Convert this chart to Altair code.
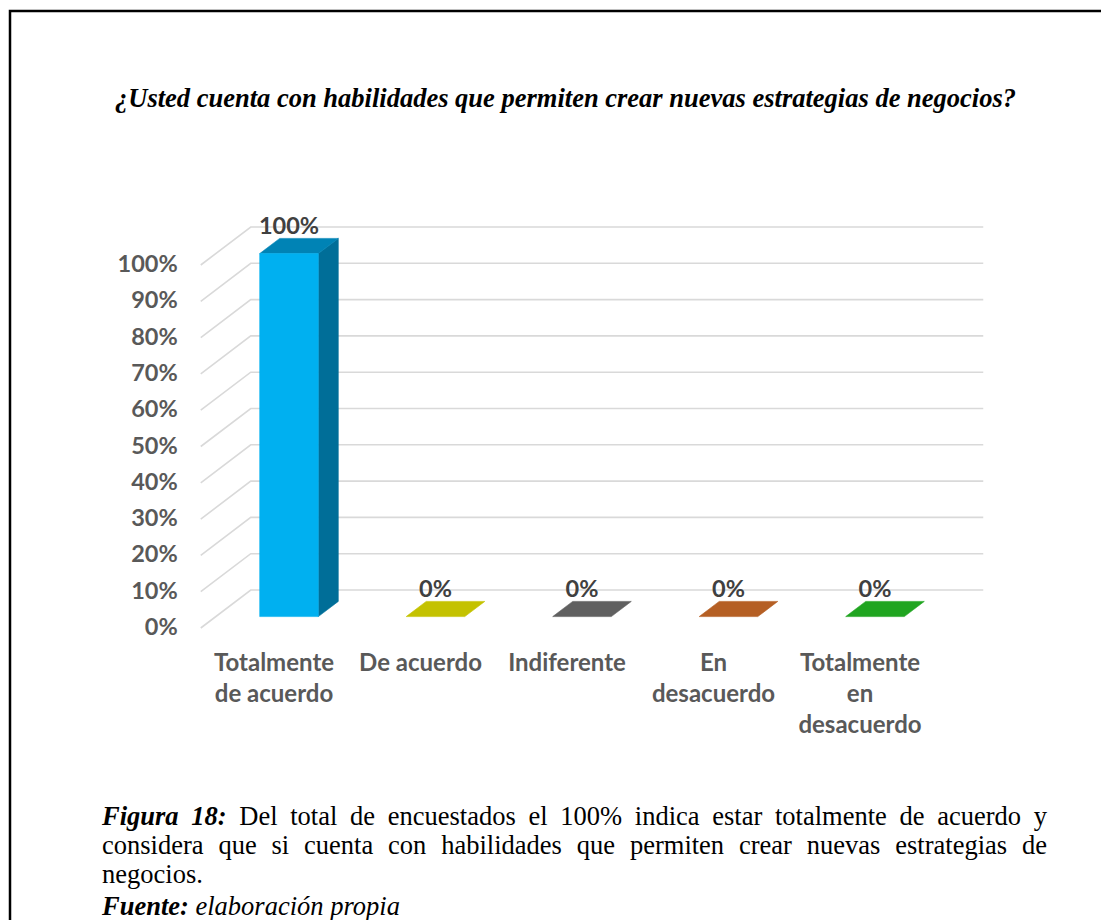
import altair as alt
import pandas as pd

# ---------------- data ----------------
categories = ["Totalmente de acuerdo", "De acuerdo", "Indiferente",
              "En desacuerdo", "Totalmente en desacuerdo"]
tick_labels = ["Totalmente\nde acuerdo", "De acuerdo", "Indiferente",
               "En\ndesacuerdo", "Totalmente\nen\ndesacuerdo"]
percentages = [100, 0, 0, 0, 0]
front_colors = ["#00B0F0", "#F2EF00", "#7F7F7F", "#D9722E", "#28C228"]
top_colors = ["#0083B5", "#C4C200", "#606060", "#B55F24", "#20A520"]
side_colors = ["#006E98", "#A3A100", "#4F4F4F", "#96501E", "#1A8A1A"]
grid_values = list(range(0, 101, 10))

title_text = ("¿Usted cuenta con habilidades que permiten crear "
              "nuevas estrategias de negocios?")
caption_lines = [
    ("justify", [("bi", "Figura 18:"),
                 ("r", "Del total de encuestados el 100% indica estar "
                       "totalmente de acuerdo y")]),
    ("justify", [("r", "considera que si cuenta con habilidades que permiten "
                       "crear nuevas estrategias de")]),
    ("left", [("r", "negocios.")]),
    ("left", [("bi", "Fuente:"), ("i", "elaboración propia")]),
]

# ---------------- layout ----------------
PAD_L, PAD_T = 10, 11          # frame origin on the page
VIEW_W, VIEW_H = 1091, 909     # frame size
CAT_PX = 146.5                 # pixels between categories
CAT0_PX = 274                  # page x of first category (front plane)
PCT_PX = 3.63                  # pixels per percentage point
ZERO_PX = 628                  # page y of 0 % on the front plane
DEPTH_DX, DEPTH_DY = 50, 38    # oblique offset of the back wall (px)

KX = DEPTH_DX / CAT_PX         # depth offset in data units
KY = DEPTH_DY / PCT_PX
HALF_W = 0.2                   # half column width (category units)
D_FRONT, D_BACK = 0.3, 0.7     # column depth inside the floor

x_lo = (PAD_L - CAT0_PX) / CAT_PX
x_hi = x_lo + VIEW_W / CAT_PX
y_hi = (ZERO_PX - PAD_T) / PCT_PX
y_lo = y_hi - VIEW_H / PCT_PX
XS = alt.Scale(domain=[x_lo, x_hi], nice=False, zero=False)
YS = alt.Scale(domain=[y_lo, y_hi], nice=False, zero=False)

LABEL_FONT = "Lato"
VALUE_SIZE = 23.5
TICK_SIZE = 24
SERIF = "Liberation Serif"
SERIF_SIZE = 26.5

# ---------------- tables ----------------
n = len(categories)
front_rows, side_rows, top_rows, value_rows, tick_rows = [], [], [], [], []
for i, (cat, v) in enumerate(zip(categories, percentages)):
    fx = i + D_FRONT * KX
    bx = i + D_BACK * KX
    fy = D_FRONT * KY
    by = D_BACK * KY
    front_rows.append({"cat": cat, "v": v, "x1": fx - HALF_W, "x2": fx + HALF_W,
                       "y1": fy, "y2": v + fy, "color": front_colors[i]})
    side_rows += [
        {"cat": cat, "v": v, "x": fx + HALF_W, "lo": fy, "hi": v + fy,
         "color": side_colors[i]},
        {"cat": cat, "v": v, "x": bx + HALF_W, "lo": by, "hi": v + by,
         "color": side_colors[i]},
    ]
    top_rows += [
        {"cat": cat, "y": v + fy, "xl": fx - HALF_W, "xr": fx + HALF_W,
         "color": top_colors[i]},
        {"cat": cat, "y": v + by, "xl": bx - HALF_W, "xr": bx + HALF_W,
         "color": top_colors[i]},
    ]
    value_rows.append({"x": fx, "y": v + by, "label": f"{v}%"})
    tick_rows.append({"x": i, "y": 0, "label": tick_labels[i]})

grid_rows = []
for g in grid_values:
    pts = [(-0.5, g), (-0.5 + KX, g + KY), (n - 0.5 + KX, g + KY)]
    for k, (gx, gy) in enumerate(pts):
        grid_rows.append({"g": g, "k": k, "x": gx, "y": gy})
ylab_rows = [{"x": -0.5, "y": g, "label": f"{g}%"} for g in grid_values]

front_df = pd.DataFrame(front_rows)
side_df = pd.DataFrame(side_rows)
top_df = pd.DataFrame(top_rows)
value_df = pd.DataFrame(value_rows)
tick_df = pd.DataFrame(tick_rows)
grid_df = pd.DataFrame(grid_rows)
ylab_df = pd.DataFrame(ylab_rows)

# Times-compatible advance widths (per 1000 em) for justified caption lines
REG = {' ': 250, 'a': 444, 'b': 500, 'c': 444, 'd': 500, 'e': 444, 'f': 333,
       'g': 500, 'h': 500, 'i': 278, 'j': 278, 'k': 500, 'l': 278, 'm': 778,
       'n': 500, 'o': 500, 'p': 500, 'q': 500, 'r': 333, 's': 389, 't': 278,
       'u': 500, 'v': 500, 'w': 722, 'x': 500, 'y': 500, 'z': 444, '.': 250,
       ':': 278, '%': 833, 'D': 722, 'F': 556, 'ó': 500}
BOLD_ITALIC = {' ': 250, 'F': 667, 'i': 278, 'g': 500, 'u': 556, 'r': 389,
               'a': 500, ':': 333, 'e': 444, 'n': 556, 't': 278}
ITALIC = {' ': 250, 'e': 444, 'l': 278, 'a': 500, 'b': 500, 'o': 500,
          'r': 389, 'c': 444, 'i': 278, 'ó': 500, 'n': 500, 'p': 500}
TABLES = {"r": REG, "bi": BOLD_ITALIC, "i": ITALIC}


def text_width(word, style, size):
    table = TABLES[style]
    return sum(table.get(ch, 500) for ch in word) * size / 1000.0


CAP_LEFT, CAP_RIGHT = 102 - PAD_L, 1047 - PAD_L
CAP_BASELINES = [825 - PAD_T, 854 - PAD_T, 883 - PAD_T, 915 - PAD_T]
word_rows = []
for li, (mode, runs) in enumerate(caption_lines):
    words = [(w, st) for st, txt in runs for w in txt.split(" ")]
    widths = [text_width(w, st, SERIF_SIZE) for w, st in words]
    if mode == "justify" and len(words) > 1:
        gap = (CAP_RIGHT - CAP_LEFT - sum(widths)) / (len(words) - 1)
    else:
        gap = text_width(" ", "r", SERIF_SIZE)
    xpos = CAP_LEFT
    for (w, st), wd in zip(words, widths):
        word_rows.append({"word": w, "style": st, "px": xpos,
                          "py": CAP_BASELINES[li]})
        xpos += wd + gap
word_df = pd.DataFrame(word_rows)

# ---------------- layers ----------------
# page frame: only its top and left sides fall inside the page
frame = alt.Chart(pd.DataFrame({"a": [0]})).mark_rect(
    fillOpacity=0, stroke="black", strokeWidth=2.5).encode(
    x=alt.value(0), x2=alt.value(VIEW_W + 40),
    y=alt.value(0), y2=alt.value(VIEW_H + 40))

grid = alt.Chart(grid_df).mark_line(color="#D9D9D9", strokeWidth=1.6).encode(
    x=alt.X("x:Q", scale=XS, axis=None),
    y=alt.Y("y:Q", scale=YS, axis=None),
    detail="g:N",
    order="k:Q",
)

sides = alt.Chart(side_df).transform_filter("datum.v > 0").mark_area(
    orient="vertical", strokeWidth=0.6).encode(
    x=alt.X("x:Q", scale=XS, axis=None),
    y=alt.Y("hi:Q", scale=YS, axis=None),
    y2="lo:Q",
    detail="cat:N",
    color=alt.Color("color:N", scale=None),
    stroke=alt.Stroke("color:N", scale=None),
)

tops = alt.Chart(top_df).mark_area(orient="horizontal", strokeWidth=0.6).encode(
    y=alt.Y("y:Q", scale=YS, axis=None),
    x=alt.X("xl:Q", scale=XS, axis=None),
    x2="xr:Q",
    detail="cat:N",
    color=alt.Color("color:N", scale=None),
    stroke=alt.Stroke("color:N", scale=None),
)

fronts = alt.Chart(front_df).transform_filter("datum.v > 0").mark_rect(
    strokeWidth=0.6).encode(
    x=alt.X("x1:Q", scale=XS, axis=None),
    x2="x2:Q",
    y=alt.Y("y1:Q", scale=YS, axis=None),
    y2="y2:Q",
    color=alt.Color("color:N", scale=None),
    stroke=alt.Stroke("color:N", scale=None),
)

values = alt.Chart(value_df).mark_text(
    font=LABEL_FONT, fontSize=VALUE_SIZE, fontWeight="bold", color="#404040",
    baseline="alphabetic", dy=-4).encode(
    x=alt.X("x:Q", scale=XS, axis=None),
    y=alt.Y("y:Q", scale=YS, axis=None),
    text="label:N",
)

ylabels = alt.Chart(ylab_df).mark_text(
    font=LABEL_FONT, fontSize=VALUE_SIZE, fontWeight="bold", color="#595959",
    align="right", baseline="middle", dx=-23).encode(
    x=alt.X("x:Q", scale=XS, axis=None),
    y=alt.Y("y:Q", scale=YS, axis=None),
    text="label:N",
)

ticks = alt.Chart(tick_df).mark_text(
    font=LABEL_FONT, fontSize=TICK_SIZE, fontWeight="bold", color="#595959",
    align="center", baseline="alphabetic", dy=43, lineBreak="\n",
    lineHeight=31).encode(
    x=alt.X("x:Q", scale=XS, axis=None),
    y=alt.Y("y:Q", scale=YS, axis=None),
    text="label:N",
)

title = alt.Chart(pd.DataFrame({"t": [title_text]})).mark_text(
    font=SERIF, fontSize=SERIF_SIZE, fontWeight="bold", fontStyle="italic",
    color="black", align="center", baseline="alphabetic").encode(
    x=alt.value((113 + 1018) / 2 - PAD_L),
    y=alt.value(107 - PAD_T),
    text="t:N",
)


def caption_layer(style, weight, font_style):
    return alt.Chart(word_df).transform_filter(
        alt.datum.style == style).mark_text(
        font=SERIF, fontSize=SERIF_SIZE, fontWeight=weight,
        fontStyle=font_style, color="black", align="left",
        baseline="alphabetic").encode(
        x=alt.X("px:Q", scale=None, axis=None),
        y=alt.Y("py:Q", scale=None, axis=None),
        text="word:N",
    )


caption = alt.layer(
    caption_layer("r", "normal", "normal"),
    caption_layer("bi", "bold", "italic"),
    caption_layer("i", "normal", "italic"),
)

chart = alt.layer(
    frame, grid, sides, tops, fronts, values, ylabels, ticks,
    title, caption,
).resolve_scale(
    x="independent", y="independent"
).properties(
    width=VIEW_W, height=VIEW_H,
    autosize=alt.AutoSizeParams(type="none"),
    padding={"left": PAD_L, "top": PAD_T, "right": 0, "bottom": 0},
    background="white",
).configure_view(stroke=None, strokeWidth=0)

chart.save("out.html", embed_options={"renderer": "svg", "actions": False})
